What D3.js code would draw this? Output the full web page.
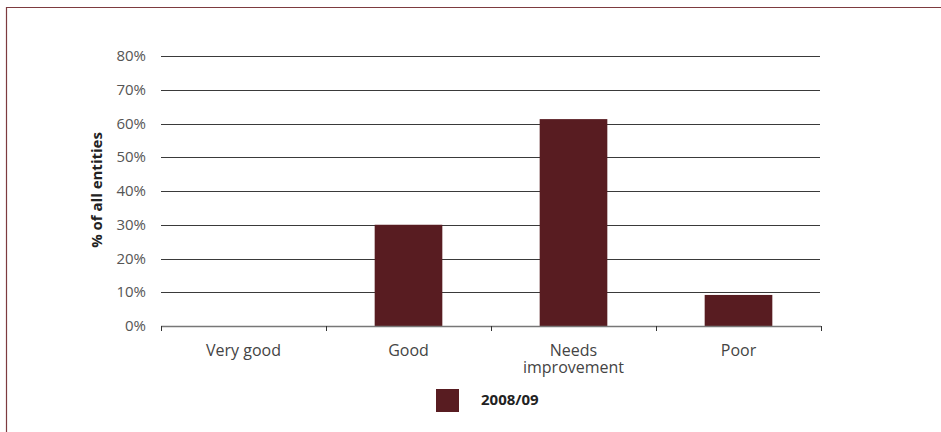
<!DOCTYPE html>
<html><head><meta charset="utf-8">
<script src="https://cdn.jsdelivr.net/npm/d3@7"></script>
<style>body{margin:0;background:#fff}svg{display:block}text{font-family:"Open Sans",sans-serif}</style>
</head><body><svg id="c" width="941" height="432"></svg>
<script>
const categories = ["Very good", "Good", "Needs improvement", "Poor"];
const values = [0, 30, 61.3, 9.2];
const seriesName = "2008/09";
const yTicks = [0, 10, 20, 30, 40, 50, 60, 70, 80];
const yLabel = "% of all entities";

const svg = d3.select("#c");
const color = "#581c21";
const m = {l: 161, r: 821, t: 56, b: 326};
const x = d3.scaleBand().domain(categories).range([m.l, m.r]).paddingInner(0.59).paddingOuter(0.295);
const xb = d3.scaleBand().domain(categories).range([m.l, m.r]);
const y = d3.scaleLinear().domain([0, 80]).range([m.b, m.t]);

// frame
svg.append("path").attr("d", "M6.5,432 V7.5 H941").attr("fill", "none").attr("stroke", "#7d3b3f").attr("stroke-width", 1.2);

// grid
svg.append("g").selectAll("line").data(yTicks.filter(d => d > 0)).join("line")
  .attr("x1", m.l).attr("x2", m.r - 1)
  .attr("y1", d => Math.round(y(d)) + 0.5).attr("y2", d => Math.round(y(d)) + 0.5)
  .attr("stroke", "#3a3a3a").attr("stroke-width", 1);

// y tick labels
svg.append("g").selectAll("text").data(yTicks).join("text")
  .attr("x", 146).attr("y", d => y(d) + 5)
  .attr("text-anchor", "end").attr("font-size", 15).attr("fill", "#555")
  .text(d => d + "%");

// bars
svg.append("g").selectAll("rect").data(values).join("rect")
  .attr("x", (d, i) => x(categories[i])).attr("width", x.bandwidth())
  .attr("y", d => y(d)).attr("height", d => y(0) - y(d))
  .attr("fill", color);

// x axis line and ticks
const ax = svg.append("g");
ax.append("line").attr("x1", m.l).attr("x2", m.r).attr("y1", m.b + 0.5).attr("y2", m.b + 0.5).attr("stroke", "#777").attr("stroke-width", 1.5);
const bounds = categories.map(c => xb(c)).concat([m.r]);
ax.selectAll("line.t").data(bounds).join("line").attr("class", "t")
  .attr("x1", d => Math.round(d) + 0.5).attr("x2", d => Math.round(d) + 0.5)
  .attr("y1", m.b).attr("y2", m.b + 5).attr("stroke", "#333");

// x labels
ax.selectAll("text.xl").data(categories).join("text").attr("class", "xl")
  .attr("text-anchor", "middle").attr("font-size", 16).attr("fill", "#444")
  .attr("x", d => xb(d) + xb.bandwidth() / 2)
  .each(function(d) {
    const words = d === "Needs improvement" ? ["Needs", "improvement"] : [d];
    const t = d3.select(this);
    words.forEach((w, i) => t.append("tspan").attr("x", xb(d) + xb.bandwidth() / 2).attr("y", 356 + i * 17).text(w));
  });

// y label
svg.append("text").attr("transform", "translate(102,190) rotate(-90)")
  .attr("text-anchor", "middle").attr("font-size", 15).attr("font-weight", "bold").attr("fill", "#222")
  .text(yLabel);

// legend
svg.append("rect").attr("x", 436).attr("y", 389).attr("width", 23).attr("height", 23).attr("fill", color);
svg.append("text").attr("x", 481).attr("y", 405).attr("font-size", 15).attr("font-weight", "bold").attr("fill", "#222").text(seriesName);
</script></body></html>
